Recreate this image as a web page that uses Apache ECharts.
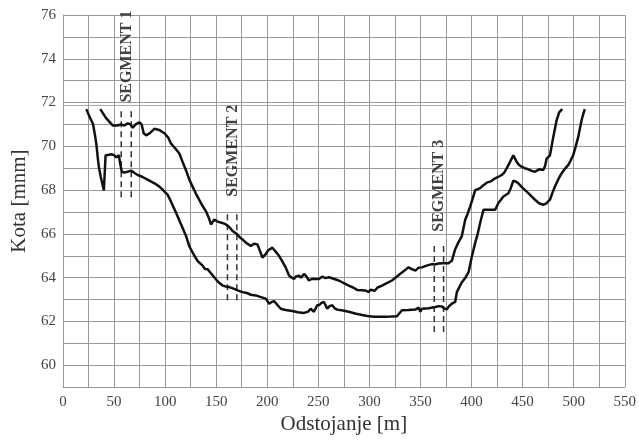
<!DOCTYPE html>
<html>
<head>
<meta charset="utf-8">
<script src="https://cdn.jsdelivr.net/npm/echarts@6/dist/echarts.min.js"></script>
<style>html,body{margin:0;padding:0;background:#fff}#c{width:639px;height:440px}</style>
</head>
<body>
<div id="c"></div>
<script>
// Upper profile
var upperX = [36.5,42,48.8,53,57,60,63.5,66,68.3,71,74.9,77,79,81.4,85,89.5,94,99.3,103,105.8,110,113.9,117,120.5,123.5,126.9,130,133.4,137,140,143,144.9,146.5,148,152,156,159.5,163,166,170,173,175.7,179,183.9,187,190.4,193,195.2,198,201,205,208,211.5,214,218,221.3,224,226.2,228,231,233,236,238.5,240.8,244,247.4,250.6,254,257,260.4,265,270,275,279.8,284,288,293,297,299.4,301,302.6,305,308,312.4,317,322.1,327,331.9,335,338.4,341,345,348,351.4,356,361.2,364,367.7,372,377.4,380.7,384,387,390.5,393.8,396,398.7,401,403.6,408.4,411,414.9,419,423.1,426,429.5,432,434.4,437.7,440.9,442.5,444.2,446.5,449,452,455.6,459,462.1,466,470.2,472,473.5,476.8,480,483.2,485.8,488.8];
var upperY = [71.7,71.3,70.95,70.95,71.0,70.95,71.05,71.0,70.85,71.0,71.1,71.0,70.6,70.5,70.6,70.8,70.75,70.6,70.4,70.12,69.9,69.67,69.3,68.9,68.5,68.16,67.85,67.55,67.25,67.03,66.7,66.43,66.5,66.65,66.55,66.5,66.43,66.3,66.13,66.0,65.85,65.75,65.6,65.45,65.55,65.52,65.2,64.92,65.05,65.25,65.37,65.2,65.0,64.8,64.47,64.1,64.0,63.94,64.05,64.09,64.0,64.17,64.05,63.87,63.95,63.94,63.94,64.05,63.98,64.02,63.95,63.87,63.75,63.64,63.55,63.44,63.42,63.4,63.34,63.45,63.49,63.4,63.55,63.64,63.75,63.87,64.05,64.24,64.35,64.47,64.4,64.32,64.45,64.47,64.55,64.62,64.6,64.65,64.66,64.66,64.77,65.3,65.6,65.9,66.65,66.9,67.26,67.6,68.0,68.09,68.2,68.34,68.4,68.54,68.6,68.69,68.8,68.99,69.29,69.59,69.45,69.29,69.15,69.07,69.0,68.95,68.88,68.84,68.95,68.92,69.1,69.44,69.59,70.42,71.17,71.55,71.7];
// Lower profile
var lowerX = [22.8,26,29.3,31,32.6,34,35.1,37,40,41.7,44,47.2,50,52.1,53.5,54.7,56,57.6,60,61.9,64,66.8,70,73.2,78,84.6,90,94.4,98,102.5,106,110.7,115,120.5,124,128.6,132,136.7,139,141.5,144,148.1,152,156.2,159,162.7,167,171,175.7,180,184,188.8,193,198.6,201.8,204,206.7,210,213.2,218,224.5,230,236,240,242.5,244,245.7,248.9,251,253,255.5,257,258.7,261,263.6,266,268.4,274,279.8,286,292.8,298,304.3,310,315.7,321,327,329,331.9,338,345,348.2,349.9,351.4,358,364.5,368,371,373,375.8,378,380.7,384,385.6,390.5,394,397,400,403.6,406,408.4,411.7,416,420,423.1,426.3,431.2,436.1,438.5,440.9,443,445.8,450,455.6,459,462.1,466,470.2,473,476.8,479,481.6,485,488.1,491,494.6,497,499.5,502,504.4,507.6,509.5,510.9];
var lowerY = [71.7,71.35,71.03,70.6,70.12,69.5,69.07,68.6,67.98,69.59,69.6,69.64,69.6,69.5,69.45,69.59,69.2,68.84,68.8,68.77,68.85,68.89,68.78,68.69,68.6,68.43,68.3,68.16,68.0,67.78,67.45,66.96,66.5,65.9,65.4,65.0,64.75,64.55,64.4,64.39,64.25,64.02,63.8,63.64,63.6,63.57,63.5,63.42,63.34,63.3,63.22,63.19,63.12,63.04,62.81,62.88,62.93,62.75,62.58,62.52,62.48,62.42,62.39,62.45,62.58,62.5,62.44,62.74,62.75,62.85,62.89,62.85,62.58,62.7,62.74,62.6,62.54,62.5,62.44,62.36,62.29,62.25,62.21,62.21,62.21,62.22,62.24,62.35,62.51,62.52,62.54,62.63,62.44,62.58,62.6,62.66,62.7,62.68,62.6,62.55,62.7,62.81,62.89,63.34,63.79,64.0,64.24,64.9,65.6,66.0,66.5,67.1,67.1,67.1,67.1,67.41,67.71,67.86,68.1,68.43,68.4,68.31,68.1,67.86,67.7,67.56,67.4,67.33,67.38,67.56,67.85,68.16,68.5,68.76,68.95,69.14,69.35,69.59,70.0,70.42,71.17,71.5,71.7];
// Segment markers
var segNames = ['SEGMENT 1','SEGMENT 2','SEGMENT 3'];
var segLineX = [[57,66.8],[161,170.2],[363.5,372.6]];
var segLineTop = [71.6,66.9,65.45];
var segLineBottom = [67.6,62.9,61.45];
var segLabelX = [62.3,166,367.7];
var segLabelY = [74.1,69.8,68.2];
var xTicks = [0,50,100,150,200,250,300,350,400,450,500,550];
var yTicks = [60,62,64,66,68,70,72,74,76];

function zip(a,b){return a.map(function(v,i){return [v,b[i]];});}

var series = [
  {type:'line',data:zip(upperX,upperY),showSymbol:false,symbol:'none',lineStyle:{color:'#111',width:2.5},z:5,
   markLine:{silent:true,symbol:'none',label:{show:false},lineStyle:{color:'#aaa',width:1,type:'solid'},data:[{yAxis:71.88}]}},
  {type:'line',data:zip(lowerX,lowerY),showSymbol:false,symbol:'none',lineStyle:{color:'#111',width:2.5},z:5}
];
segLineX.forEach(function(pair,i){
  pair.forEach(function(x){
    series.push({type:'line',data:[[x,segLineTop[i]],[x,segLineBottom[i]]],showSymbol:false,symbol:'none',
      lineStyle:{color:'#333',width:1.5,type:[6,4]},z:4});
  });
});
series.push({type:'scatter',symbolSize:0,z:6,
  data:segNames.map(function(n,i){return {value:[segLabelX[i],segLabelY[i]],name:n};}),
  label:{show:true,position:'inside',rotate:90,formatter:function(p){return p.name;},
    fontFamily:'Liberation Serif',fontWeight:'bold',fontSize:16,color:'#111'}});

var chart = echarts.init(document.getElementById('c'),null,{renderer:'canvas'});
chart.setOption({
  animation:false,
  backgroundColor:'#fff',
  grid:{left:63,right:12,top:15,bottom:49,containLabel:false},
  xAxis:{type:'value',min:0,max:550,interval:25,
    name:'Odstojanje [m]',nameLocation:'middle',nameGap:23,
    nameTextStyle:{fontFamily:'Liberation Serif',fontSize:21,color:'#333'},
    axisLine:{show:true,lineStyle:{color:'#999',width:1}},axisTick:{show:false},
    axisLabel:{margin:7,fontFamily:'Liberation Serif',fontSize:15,color:'#444',
      formatter:function(v){return xTicks.indexOf(v)>=0?String(v):'';}},
    splitLine:{show:true,lineStyle:{color:'#999',width:1}}},
  yAxis:{type:'value',min:59,max:76,interval:1,
    name:'Kota [mnm]',nameLocation:'middle',nameGap:32,
    nameTextStyle:{fontFamily:'Liberation Serif',fontSize:21,color:'#333'},
    axisLine:{show:true,lineStyle:{color:'#999',width:1}},axisTick:{show:false},
    axisLabel:{margin:7,fontFamily:'Liberation Serif',fontSize:15,color:'#444',
      formatter:function(v){return yTicks.indexOf(v)>=0?String(v):'';}},
    splitLine:{show:true,lineStyle:{color:'#999',width:1}}},
  series:series
});
</script>
</body>
</html>
